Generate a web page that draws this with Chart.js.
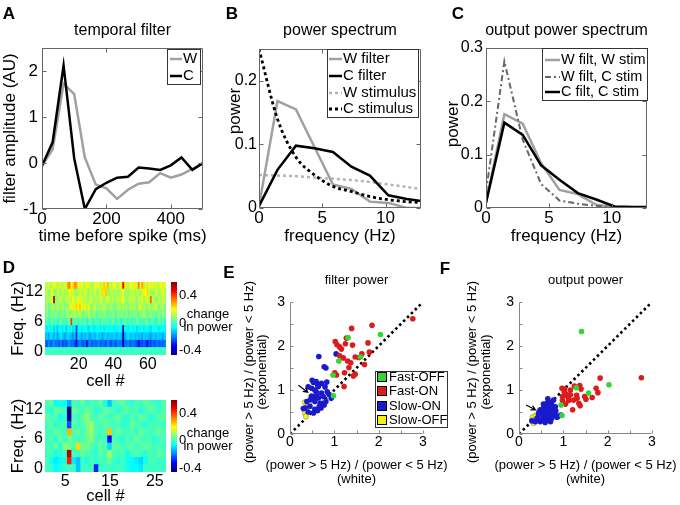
<!DOCTYPE html>
<html>
<head>
<meta charset="utf-8">
<title>Filter and output power spectra</title>
<script src="https://cdn.jsdelivr.net/npm/chart.js@4.4.1/dist/chart.umd.min.js"></script>
<style>
  html, body { margin: 0; padding: 0; background: #fff; }
  #fig { position: relative; width: 680px; height: 505px; overflow: hidden; font-family: "Liberation Sans", Arial, sans-serif; }
  #fig canvas { position: absolute; left: 0; top: 0; }
  .tag { position: absolute; transform: translate(-50%, -50%); white-space: nowrap; line-height: 1; }
  .letter { font-weight: bold; font-size: 17px; }
  .cbar { font-size: 13px; }
</style>
</head>
<body>
<div id="fig">
  <canvas id="panelA" width="680" height="505"></canvas>
  <canvas id="panelB" width="680" height="505"></canvas>
  <canvas id="panelC" width="680" height="505"></canvas>
  <canvas id="panelD1" width="680" height="505"></canvas>
  <canvas id="panelD1bar" width="680" height="505"></canvas>
  <canvas id="panelD2" width="680" height="505"></canvas>
  <canvas id="panelD2bar" width="680" height="505"></canvas>
  <canvas id="panelE" width="680" height="505"></canvas>
  <canvas id="panelF" width="680" height="505"></canvas>

  <div class="tag letter" style="left:9px;top:13px">A</div>
  <div class="tag letter" style="left:232px;top:13px">B</div>
  <div class="tag letter" style="left:458px;top:13px">C</div>
  <div class="tag letter" style="left:9px;top:267px">D</div>
  <div class="tag letter" style="left:229px;top:272px">E</div>
  <div class="tag letter" style="left:445px;top:268px">F</div>
  <div class="tag cbar" style="left:208px;top:313px">change</div>
  <div class="tag cbar" style="left:208px;top:326px">in power</div>
  <div class="tag cbar" style="left:208px;top:432px">change</div>
  <div class="tag cbar" style="left:208px;top:445px">in power</div>
</div>
<script>
// ---- A: temporal filter ----
const timeMs = [0, 33, 67, 100, 133, 167, 200, 233, 267, 300, 333, 367, 400, 433, 467, 500];
const filterW = [-0.06, 0.3, 1.72, 1.5, 0.12, -0.47, -0.55, -0.78, -0.58, -0.45, -0.42, -0.22, -0.32, -0.25, -0.13, 0];
const filterC = [-0.06, 0.45, 2.12, 0.1, -1.0, -0.57, -0.43, -0.32, -0.3, -0.1, -0.12, -0.15, -0.05, 0.12, -0.15, 0];
const timeTicks = [0, 200, 400];
const ampTicks = [-1, 0, 1, 2];

// ---- B / C: power spectra ----
const freqs = [0, 1.46, 2.92, 4.38, 5.84, 7.3, 8.76, 10.22, 11.68, 13.14];
const specWFilter = [0.003, 0.168, 0.155, 0.096, 0.037, 0.03, 0.01, 0.008, 0.0, 0.0];
const specCFilter = [0.003, 0.06, 0.098, 0.094, 0.088, 0.065, 0.051, 0.02, 0.014, 0.01];
const specWStim = [0.052, 0.051, 0.05, 0.048, 0.046, 0.044, 0.041, 0.037, 0.033, 0.029];
const specCStim = [0.25, 0.14, 0.08, 0.052, 0.034, 0.026, 0.018, 0.013, 0.01, 0.008];
const outWfiltWstim = [0.01, 0.176, 0.158, 0.084, 0.034, 0.026, 0.006, 0.002, 0.001, 0.001];
const outWfiltCstim = [0.03, 0.275, 0.128, 0.045, 0.014, 0.008, 0.004, 0.002, 0.001, 0.001];
const outCfiltCstim = [0.01, 0.16, 0.137, 0.08, 0.053, 0.028, 0.016, 0.003, 0.002, 0.002];
const freqAxisTicks = [0, 5, 10];
const specTicks = [0, 0.1, 0.2];
const outTicks = [0, 0.1, 0.2, 0.3];

// ---- D: change in power (x100), rows from 0 Hz upward, one column per cell ----
const topPower = [
  [0,0,0,0,0,0,0,0,0,0, 0,0,0,0,0,0,0,0,0,0, 0,0,0,0,0,0,0,0,0,0, 0,0,0,0,0,0,0,0,0,0,
   0,0,0,0,0,0,0,0,0,0, 0,0,0,0,0,0,0,0,0,0, 0,0,0,0,0,0,0,0,0,0],
  [-20,-24,-18,-25,-21,-17,-22,-20,-24,-18, -26,-21,-25,-20,-17,-22,-20,-25,-34,-21,
   -18,-22,-24,-20,-36,-21,-18,-24,-20,-22, -21,-18,-24,-20,-22,-25,-18,-21,-26,-20,
   -22,-24,-18,-21,-20,-38,-22,-20,-18,-24, -21,-20,-22,-25,-36,-24,-26,-22,-25,-34,
   -24,-26,-21,-25,-22,-20,-24,-21,-22,-20],
  [-13,-11,-16,-8,-12,-14,-10,-17,-12,-8, -11,-16,-13,-10,-12,-14,-18,-11,-30,-8,
   -12,-16,-11,-14,-10,-13,-17,-11,-12,-14, -8,-13,-11,-16,-12,-10,-14,-11,-13,-12,
   -10,-14,-12,-11,-13,-40,-16,-11,-8,-13, -12,-10,-14,-11,-13,-12,-16,-10,-13,-11,
   -14,-17,-12,-11,-14,-10,-13,-12,-16,-11],
  [-6,-8,-5,-7,-4,-10,-6,-12,-5,-7, -8,-4,-11,-6,-7,-5,-10,-6,-24,-7,
   -5,-8,-6,-4,-7,-10,-5,-6,-8,-7, -4,-6,-7,-5,-8,-6,-4,-7,-5,-6,
   -8,-5,-7,-4,-6,-40,-7,-5,-8,-6, -4,-7,-5,-10,-6,-7,-4,-8,-5,-6,
   -7,-10,-5,-6,-4,-7,-8,-5,-6,-7],
  [0,4,-2,2,6,0,4,-4,2,6, 0,2,-2,4,6,40,2,0,4,-2, 6,2,0,4,-4,2,6,0,-2,4,
   0,2,-4,6,2,0,4,-2,2,6, 0,-2,4,2,-4,0,6,2,0,4, -2,2,0,6,4,-2,2,0,4,6,
   -2,2,4,0,-4,2,6,0,2,-2],
  [4,8,2,6,10,4,8,6,2,10, 6,4,8,12,6,10,8,14,6,10, 12,8,4,10,6,14,8,4,10,6,
   2,8,6,4,10,8,2,6,4,8, 6,2,8,4,10,6,4,8,2,6, 10,4,8,6,2,10,6,12,8,4,
   6,10,4,8,2,6,8,4,10,6],
  [6,10,4,8,12,10,6,14,8,10, 12,6,10,8,14,18,22,16,24,20, 26,18,14,22,12,20,10,8,12,16,
   6,10,8,12,14,10,6,8,12,10, 4,8,10,14,6,12,8,10,6,14, 8,12,10,6,14,20,8,12,10,6,
   14,8,12,10,16,8,6,10,12,8],
  [8,12,10,14,16,56,10,8,12,14, 10,8,14,12,16,10,20,14,12,18, 22,16,10,14,12,8,18,14,10,12,
   14,10,16,12,8,14,18,12,10,14, 8,12,16,10,14,20,12,8,10,14, 12,16,10,8,14,12,18,10,14,16,
   12,36,14,10,8,12,16,10,14,12],
  [10,14,8,12,20,10,6,14,12,8, 16,10,14,12,18,22,14,10,8,12, 16,14,10,18,12,8,14,10,12,16,
   8,12,14,24,22,26,10,8,14,12, 10,16,8,12,14,18,10,12,8,14, 12,16,10,14,12,8,16,22,20,24,
   14,10,12,8,16,12,10,14,18,12],
  [15,12,18,10,14,20,16,12,22,15, 10,18,14,30,34,20,24,32,30,18, 14,20,16,12,18,22,15,10,14,20,
   16,18,12,22,26,18,28,14,12,16, 20,15,10,18,22,48,24,14,12,18, 20,16,22,14,34,18,30,24,16,12,
   20,14,18,22,15,12,16,20,14,18],
];
const bottomPower = [
  [0,0,-6,-4,0,0,0,-12,0,0, 0,-30,0,0,0,0,0,0,-4,-6, -6,-8,0,0,0,0,0],
  [2,-4,-8,-6,-2,44,-8,-12,0,-4, 2,-2,0,2,4,0,-2,0,-4,-6, -8,-10,-4,0,2,-2,0],
  [0,2,-4,-2,0,54,2,0,4,2, 0,-2,4,0,10,2,0,2,-4,0, 2,0,-2,2,0,4,2],
  [2,0,4,-2,8,6,2,24,4,6, 2,0,4,2,-10,4,2,0,2,4, 0,2,4,2,0,2,0],
  [0,2,-2,4,0,4,2,0,2,4, 8,0,2,0,-32,2,0,-2,2,0, 4,2,0,2,-2,0,2],
  [2,0,4,2,0,28,2,4,0,6, 10,2,0,2,26,0,4,2,0,2, 0,4,2,0,2,4,2],
  [0,4,-2,0,2,-24,4,0,2,6, 10,2,0,4,2,0,2,-2,0,4, 2,0,-2,2,0,2,0],
  [4,0,2,-4,0,-42,2,0,4,8, 2,0,4,2,0,2,4,0,-2,2, 0,4,2,-2,0,2,4],
  [0,-2,4,2,0,-46,4,2,0,6, 2,-2,0,4,2,0,-2,2,4,0, 2,-2,0,4,2,0,2],
  [2,4,-6,-4,-6,-14,2,0,4,-2, 2,0,4,-4,-12,0,2,4,0,-2, 2,0,4,2,0,-2,2],
];
const freqTicks = [0, 6, 12];
const topCellTicks = [20, 40, 60];
const bottomCellTicks = [5, 15, 25];
const CLIM = [-0.46, 0.6];
const powerTicks = [-0.4, 0, 0.4];

// ---- E / F: (power > 5 Hz)/(power < 5 Hz), [white, exponential] ----
const filterFastOff = [[2.04,2.26],[1.31,2.19],[1.59,1.75],[1.10,1.66],[0.97,1.34],[0.98,0.87]];
const filterFastOn = [[2.77,2.62],[1.85,2.47],[1.39,2.40],[1.27,2.18],[1.02,2.10],[1.06,2.03],[1.12,1.98],
  [1.16,1.93],[1.25,2.05],[1.41,2.02],[1.76,2.07],[1.47,1.75],[1.55,1.74],[1.62,1.82],[1.79,1.86],
  [1.68,1.58],[1.30,1.66],[1.20,1.73],[1.12,1.78],[1.01,1.39],[1.05,1.34],[1.23,1.39],[1.33,1.51],
  [1.43,1.32],[1.47,1.36],[1.22,1.08],[1.37,1.62]];
const filterSlowOn = [[0.65,1.76],[0.77,1.53],[0.81,1.50],[1.04,1.82],[0.50,1.22],[0.53,1.17],[0.59,1.19],
  [0.62,1.12],[0.71,1.15],[0.83,1.18],[0.41,1.07],[0.49,1.04],[0.64,1.08],[0.79,1.07],[0.56,1.00],
  [0.59,0.96],[0.71,0.93],[0.84,0.96],[0.49,0.86],[0.53,0.83],[0.64,0.82],[0.75,0.85],[0.93,0.81],
  [0.38,0.74],[0.56,0.74],[0.68,0.70],[0.81,0.74],[0.45,0.63],[0.34,0.59],[0.56,0.56],[0.70,0.59],
  [0.41,0.50],[0.53,0.48],[0.30,0.58],[0.62,0.53],[0.66,0.62],[0.77,0.66],[0.46,0.78],[0.60,0.88],[0.88,0.90]];
const filterSlowOff = [[0.34,0.72],[0.42,0.70],[0.47,0.84],[0.35,0.58],[0.34,0.47],[0.36,0.40]];
const outFastOff = [[1.41,2.33],[2.03,1.12],[1.57,0.93],[1.29,1.05],[0.95,0.66],[0.97,0.42]];
const outFastOn = [[2.76,1.28],[1.83,1.27],[0.97,1.04],[1.03,1.02],[1.16,1.00],[1.25,1.09],[1.37,1.10],
  [1.40,1.02],[1.74,1.04],[1.78,0.94],[1.65,0.83],[1.48,0.85],[1.51,0.79],[1.31,0.81],[1.16,0.89],
  [1.07,0.90],[0.98,0.85],[1.12,0.76],[1.23,0.77],[1.35,0.70],[1.38,0.64],[1.05,0.68],[1.21,0.55],
  [0.98,0.76],[1.11,0.83],[1.02,0.96],[1.30,0.88]];
const outSlowOn = [[0.95,0.43],[1.04,0.88],[0.65,0.80],[0.78,0.77],[0.63,0.70],[0.74,0.66],[0.56,0.61],
  [0.67,0.58],[0.82,0.62],[0.48,0.55],[0.59,0.51],[0.71,0.48],[0.83,0.52],[0.44,0.45],[0.53,0.43],
  [0.65,0.41],[0.78,0.43],[0.89,0.41],[0.41,0.36],[0.52,0.33],[0.63,0.32],[0.74,0.36],[0.86,0.38],
  [0.48,0.28],[0.59,0.26],[0.71,0.28],[0.37,0.28],[0.29,0.30],[0.80,0.48],[1.05,0.89],[0.55,0.68],
  [0.62,0.60],[0.69,0.52],[0.76,0.55],[0.58,0.38],[0.50,0.47],[0.66,0.35],[0.45,0.50],[0.60,0.45],[0.72,0.72]];
const outSlowOff = [[0.31,0.38],[0.36,0.31],[0.41,0.37],[0.33,0.25],[0.38,0.42],[0.30,0.30]];
const filterArrow = [[0.19, 1.11], [0.40, 0.95]];
const outArrow = [[0.16, 0.66], [0.37, 0.55]];
const unityRange = [0, 3];
const ratioTicks = [0, 0.5, 1, 1.5, 2, 2.5, 3];

// ---- styling / layout ----
const W = 680, H = 505;
const FONT = '"Liberation Sans", Arial, sans-serif';
const GRAY = '#a0a0a0';
const AXIS = '#666';
const GREEN = '#33d633', RED = '#dc1c1c', BLUE = '#1a1acc', YELLOW = '#f2f20c';
const RATIO_LABEL = '(power > 5 Hz) / (power < 5 Hz)';

Chart.defaults.font.family = FONT;
Chart.defaults.color = '#000';
Chart.defaults.animation = false;
Chart.defaults.responsive = false;
Chart.defaults.events = [];
Chart.defaults.plugins.legend.display = false;
Chart.defaults.plugins.tooltip.enabled = false;

function jetAt(t) {
  const ch = k => Math.round(255 * Math.min(1, Math.max(0, 1.5 - Math.abs(4 * t - k))));
  return `rgb(${ch(3)},${ch(2)},${ch(1)})`;
}
function jet(v) {
  return jetAt(Math.min(1, Math.max(0, (v - CLIM[0]) / (CLIM[1] - CLIM[0]))));
}

// padding so the chart area lands on the given page box
function pad(area, yw, xh, yRight) {
  return yRight
    ? { left: area.l, top: area.t, right: W - area.r - yw, bottom: H - area.b - xh }
    : { left: area.l - yw, top: area.t, right: W - area.r, bottom: H - area.b - xh };
}

function axis(o) {
  return {
    type: 'linear', min: o.min, max: o.max, position: o.position, offset: false,
    afterFit: s => { if (o.fitW !== undefined) s.width = o.fitW; if (o.fitH !== undefined) s.height = o.fitH; },
    afterBuildTicks: s => { s.ticks = o.ticks.map(v => ({ value: v })); },
    grid: { display: false, drawTicks: false },
    border: { display: false },
    ticks: { font: { size: o.size }, padding: o.pad || 0, maxRotation: 0, autoSkip: false,
             callback: o.fmt || (v => String(v)) },
  };
}

const series = (xs, ys) => xs.map((x, i) => ({ x, y: ys[i] }));
const intOnly = v => (Number.isInteger(v) ? String(v) : '');

// ---- plugins ----
const frame = {
  id: 'frame',
  afterDatasetsDraw(chart, args, o) {
    if (!o.color) return;
    const { ctx, chartArea: a, scales: { x, y } } = chart;
    const L = Math.round(a.left) + 0.5, R = Math.round(a.right) - 0.5;
    const T = Math.round(a.top) + 0.5, B = Math.round(a.bottom) - 0.5;
    ctx.save();
    ctx.strokeStyle = o.color;
    ctx.lineWidth = 1;
    ctx.beginPath();
    if (o.box) ctx.rect(L, T, R - L, B - T);
    else { ctx.moveTo(L, T); ctx.lineTo(L, B); ctx.lineTo(R, B); }
    for (const t of x.ticks) {
      const px = Math.round(x.getPixelForValue(t.value)) + 0.5;
      ctx.moveTo(px, B); ctx.lineTo(px, B - o.len);
      if (o.box) { ctx.moveTo(px, T); ctx.lineTo(px, T + o.len); }
    }
    for (const t of y.ticks) {
      const py = Math.round(y.getPixelForValue(t.value)) + 0.5;
      ctx.moveTo(L, py); ctx.lineTo(L + o.len, py);
      if (o.box) { ctx.moveTo(R, py); ctx.lineTo(R - o.len, py); }
    }
    ctx.stroke();
    ctx.restore();
  },
};

// panel title plus x / y axis titles (lines placed at given page positions)
const heading = {
  id: 'heading',
  afterDraw(chart, args, o) {
    const { ctx, chartArea: a } = chart;
    ctx.save();
    ctx.fillStyle = '#000';
    ctx.textAlign = 'center';
    ctx.textBaseline = 'middle';
    if (o.text) {
      ctx.font = `${o.size}px ${FONT}`;
      ctx.fillText(o.text, (a.left + a.right) / 2, o.y);
    }
    if (o.xTitle) {
      ctx.font = `${o.xTitle.size}px ${FONT}`;
      o.xTitle.text.forEach((t, i) => ctx.fillText(t, (a.left + a.right) / 2, o.xTitle.at[i]));
    }
    if (o.yTitle) {
      ctx.font = `${o.yTitle.size}px ${FONT}`;
      const cy = o.yTitle.mid !== undefined ? o.yTitle.mid : (a.top + a.bottom) / 2;
      o.yTitle.text.forEach((t, i) => {
        ctx.save();
        ctx.translate(o.yTitle.at[i], cy);
        ctx.rotate(-Math.PI / 2);
        ctx.fillText(t, 0, 0);
        ctx.restore();
      });
    }
    ctx.restore();
  },
};

const keyBox = {
  id: 'keyBox',
  afterDraw(chart, args, o) {
    if (!o.box) return;
    const ctx = chart.ctx;
    const [x0, y0, x1, y1] = o.box;
    ctx.save();
    ctx.fillStyle = '#fff';
    ctx.fillRect(x0, y0, x1 - x0, y1 - y0);
    ctx.strokeStyle = '#333';
    ctx.lineWidth = 1;
    ctx.strokeRect(x0 + 0.5, y0 + 0.5, x1 - x0, y1 - y0);
    ctx.font = `${o.size}px ${FONT}`;
    ctx.textBaseline = 'middle';
    chart.data.datasets.filter(d => d.label).forEach((d, i) => {
      const yy = o.rows[i];
      if (o.swatch) {
        const s = o.sample[1] - o.sample[0];
        ctx.fillStyle = d.backgroundColor;
        ctx.fillRect(o.sample[0], yy - s / 2, s, s);
        ctx.strokeStyle = '#000';
        ctx.strokeRect(o.sample[0] + 0.5, yy - s / 2 + 0.5, s - 1, s - 1);
      } else {
        ctx.strokeStyle = d.borderColor;
        ctx.lineWidth = d.borderWidth;
        ctx.setLineDash(d.borderDash || []);
        ctx.beginPath();
        ctx.moveTo(o.sample[0], yy);
        ctx.lineTo(o.sample[1], yy);
        ctx.stroke();
        ctx.setLineDash([]);
        ctx.lineWidth = 1;
      }
      ctx.fillStyle = '#000';
      ctx.fillText(d.label, o.textX, yy);
    });
    ctx.restore();
  },
};

const pointer = {
  id: 'pointer',
  afterDatasetsDraw(chart, args, o) {
    if (!o.from) return;
    const { ctx, scales: { x, y } } = chart;
    const x0 = x.getPixelForValue(o.from[0]), y0 = y.getPixelForValue(o.from[1]);
    const x1 = x.getPixelForValue(o.to[0]), y1 = y.getPixelForValue(o.to[1]);
    const ang = Math.atan2(y1 - y0, x1 - x0);
    ctx.save();
    ctx.strokeStyle = '#000';
    ctx.lineWidth = 1.2;
    ctx.beginPath();
    ctx.moveTo(x0, y0); ctx.lineTo(x1, y1);
    ctx.moveTo(x1 - 5 * Math.cos(ang - 0.5), y1 - 5 * Math.sin(ang - 0.5));
    ctx.lineTo(x1, y1);
    ctx.lineTo(x1 - 5 * Math.cos(ang + 0.5), y1 - 5 * Math.sin(ang + 0.5));
    ctx.stroke();
    ctx.restore();
  },
};

const colorbar = {
  id: 'colorbar',
  beforeDatasetsDraw(chart, args, o) {
    if (!o.on) return;
    const { ctx, chartArea: a } = chart;
    const g = ctx.createLinearGradient(0, a.bottom, 0, a.top);
    for (let i = 0; i <= 32; i++) g.addColorStop(i / 32, jetAt(i / 32));
    ctx.save();
    ctx.fillStyle = g;
    ctx.fillRect(a.left, a.top, a.right - a.left, a.bottom - a.top);
    ctx.restore();
  },
};

Chart.register(frame, heading, keyBox, pointer, colorbar);

// ---- A ----
const areaA = { l: 42, t: 48, r: 203, b: 209 };
new Chart(document.getElementById('panelA'), {
  type: 'line',
  data: {
    datasets: [
      { label: 'W', data: series(timeMs, filterW), borderColor: GRAY, borderWidth: 2.5, pointRadius: 0, order: 1 },
      { label: 'C', data: series(timeMs, filterC), borderColor: '#000', borderWidth: 2.5, pointRadius: 0, order: 0 },
    ],
  },
  options: {
    layout: { padding: pad(areaA, 42, 37) },
    scales: {
      x: axis({ min: 0, max: 500, ticks: timeTicks, size: 17, fitH: 37 }),
      y: axis({ min: -1, max: 2.5, ticks: ampTicks, size: 17, fitW: 42, pad: 4 }),
    },
    plugins: {
      frame: { color: AXIS, box: true, len: 4 },
      heading: {
        text: 'temporal filter', y: 31, size: 16,
        xTitle: { text: ['time before spike (ms)'], at: [236], size: 17 },
        yTitle: { text: ['filter amplitude (AU)'], at: [10], size: 17 },
      },
      keyBox: { box: [167, 49, 200, 84], rows: [59, 76], sample: [170, 182], textX: 183, size: 15 },
    },
  },
});

// ---- B ----
const areaB = { l: 259, t: 49, r: 421, b: 208 };
new Chart(document.getElementById('panelB'), {
  type: 'line',
  data: {
    datasets: [
      { label: 'W filter', data: series(freqs, specWFilter), borderColor: GRAY, borderWidth: 2.5, pointRadius: 0, order: 2 },
      { label: 'C filter', data: series(freqs, specCFilter), borderColor: '#000', borderWidth: 2.5, pointRadius: 0, order: 0 },
      { label: 'W stimulus', data: series(freqs, specWStim), borderColor: '#b4b4b4', borderWidth: 2.5, borderDash: [3, 3], pointRadius: 0, order: 3 },
      { label: 'C stimulus', data: series(freqs, specCStim), borderColor: '#000', borderWidth: 2.8, borderDash: [3, 3], pointRadius: 0, cubicInterpolationMode: 'monotone', order: 1 },
    ],
  },
  options: {
    layout: { padding: pad(areaB, 33, 38) },
    scales: {
      x: axis({ min: 0, max: 12.8, ticks: freqAxisTicks, size: 17, fitH: 38 }),
      y: axis({ min: 0, max: 0.25, ticks: specTicks, size: 16, fitW: 33, pad: 2 }),
    },
    plugins: {
      frame: { color: AXIS, box: true, len: 4 },
      heading: {
        text: 'power spectrum', y: 31, size: 16,
        xTitle: { text: ['frequency (Hz)'], at: [236], size: 17 },
        yTitle: { text: ['power'], at: [235], mid: 111, size: 17 },
      },
      keyBox: { box: [327, 49, 418, 117], rows: [59, 76, 93, 109], sample: [329, 342], textX: 343, size: 15 },
    },
  },
});

// ---- C ----
const areaC = { l: 486, t: 48, r: 647, b: 208 };
new Chart(document.getElementById('panelC'), {
  type: 'line',
  data: {
    datasets: [
      { label: 'W filt, W stim', data: series(freqs, outWfiltWstim), borderColor: GRAY, borderWidth: 2.5, pointRadius: 0, order: 2 },
      { label: 'W filt, C stim', data: series(freqs, outWfiltCstim), borderColor: '#666', borderWidth: 2, borderDash: [6, 3, 2, 3], pointRadius: 0, order: 1 },
      { label: 'C filt, C stim', data: series(freqs, outCfiltCstim), borderColor: '#000', borderWidth: 2.5, pointRadius: 0, order: 0 },
    ],
  },
  options: {
    layout: { padding: pad(areaC, 41, 38) },
    scales: {
      x: axis({ min: 0, max: 12.8, ticks: freqAxisTicks, size: 17, fitH: 38 }),
      y: axis({ min: 0, max: 0.3, ticks: outTicks, size: 16, fitW: 41, pad: 3 }),
    },
    plugins: {
      frame: { color: AXIS, box: true, len: 4 },
      heading: {
        text: 'output power spectrum', y: 31, size: 16,
        xTitle: { text: ['frequency (Hz)'], at: [236], size: 17 },
        yTitle: { text: ['power'], at: [453], mid: 124, size: 17 },
      },
      keyBox: { box: [542, 48, 647, 100], rows: [60, 77, 92], sample: [545, 560], textX: 561, size: 14.5 },
    },
  },
});

// ---- D ----
const BIN = freqs[1] - freqs[0];
function heatChart(id, area, matrix, cellTicks, xh, titleAt) {
  const cols = matrix[0].length;
  return new Chart(document.getElementById(id), {
    type: 'bar',
    data: {
      datasets: matrix.map((row, r) => ({
        data: row.map((v, c) => ({ x: c + 1, y: [freqs[r] - BIN / 2, freqs[r] + BIN / 2] })),
        backgroundColor: row.map(v => jet(v / 100)),
        borderWidth: 0, grouped: false, barPercentage: 1, categoryPercentage: 1, inflateAmount: 0.5,
      })),
    },
    options: {
      layout: { padding: pad(area, 37, xh) },
      scales: {
        x: axis({ min: 0.5, max: cols + 0.5, ticks: cellTicks, size: 16, fitH: xh }),
        y: axis({ min: freqs[0] - BIN / 2, max: freqs[freqs.length - 1] + BIN / 2, ticks: freqTicks, size: 16, fitW: 37, pad: 2 }),
      },
      plugins: {
        heading: {
          xTitle: { text: ['cell #'], at: [titleAt], size: 16.5 },
          yTitle: { text: ['Freq. (Hz)'], at: [18], size: 16.5 },
        },
      },
    },
  });
}
function colorbarChart(id, area) {
  return new Chart(document.getElementById(id), {
    type: 'bar',
    data: { labels: [], datasets: [] },
    options: {
      layout: { padding: pad(area, 40, 0, true) },
      scales: {
        x: { display: false },
        y: axis({ min: CLIM[0], max: CLIM[1], ticks: powerTicks, size: 13, fitW: 40, pad: 2, position: 'right' }),
      },
      plugins: { colorbar: { on: true } },
    },
  });
}
heatChart('panelD1', { l: 45, t: 282, r: 166, b: 355 }, topPower, topCellTicks, 35, 381);
colorbarChart('panelD1bar', { l: 171, t: 282, r: 177, b: 355 });
heatChart('panelD2', { l: 45, t: 400, r: 166, b: 472 }, bottomPower, bottomCellTicks, 34, 496);
colorbarChart('panelD2bar', { l: 171, t: 400, r: 177, b: 472 });

// ---- E / F ----
function ratioChart(id, area, groups, arrow, title, yAt, legend) {
  const points = groups.map(([label, pts, color]) => ({
    label,
    data: pts.map(([x, y]) => ({ x, y })),
    backgroundColor: color,
    borderColor: color === YELLOW ? '#888' : color,
    borderWidth: color === YELLOW ? 0.6 : 0,
    pointRadius: 2.8,
  }));
  const unity = {
    type: 'line', data: unityRange.map(v => ({ x: v, y: v })), showLine: true,
    borderColor: '#000', borderWidth: 2.6, borderDash: [2.5, 3], pointRadius: 0,
  };
  return new Chart(document.getElementById(id), {
    type: 'scatter',
    data: { datasets: points.concat([unity]) },
    options: {
      layout: { padding: pad(area, 40, 30) },
      scales: {
        x: axis({ min: 0, max: 3, ticks: ratioTicks, size: 14, fitH: 30, fmt: intOnly }),
        y: axis({ min: 0, max: 3, ticks: ratioTicks, size: 14, fitW: 40, pad: 5, fmt: intOnly }),
      },
      plugins: {
        frame: { color: '#888', box: false, len: 3 },
        heading: {
          text: title, y: 280, size: 13,
          xTitle: { text: [RATIO_LABEL, '(white)'], at: [465, 479], size: 13 },
          yTitle: { text: [RATIO_LABEL, '(exponential)'], at: yAt, mid: 372, size: 13 },
        },
        pointer: { from: arrow[0], to: arrow[1] },
        keyBox: legend || {},
      },
    },
  });
}
ratioChart('panelE', { l: 290, t: 302, r: 423, b: 434 },
  [['Fast-OFF', filterFastOff, GREEN], ['Fast-ON', filterFastOn, RED], ['Slow-ON', filterSlowOn, BLUE], ['Slow-OFF', filterSlowOff, YELLOW]],
  filterArrow, 'filter power', [249, 262],
  { box: [375, 371, 447, 427], rows: [377, 391, 406, 420], sample: [377, 387], textX: 389, size: 13, swatch: true });
ratioChart('panelF', { l: 519, t: 302, r: 652, b: 434 },
  [['Fast-OFF', outFastOff, GREEN], ['Fast-ON', outFastOn, RED], ['Slow-ON', outSlowOn, BLUE], ['Slow-OFF', outSlowOff, YELLOW]],
  outArrow, 'output power', [472, 486], null);
</script>
</body>
</html>
